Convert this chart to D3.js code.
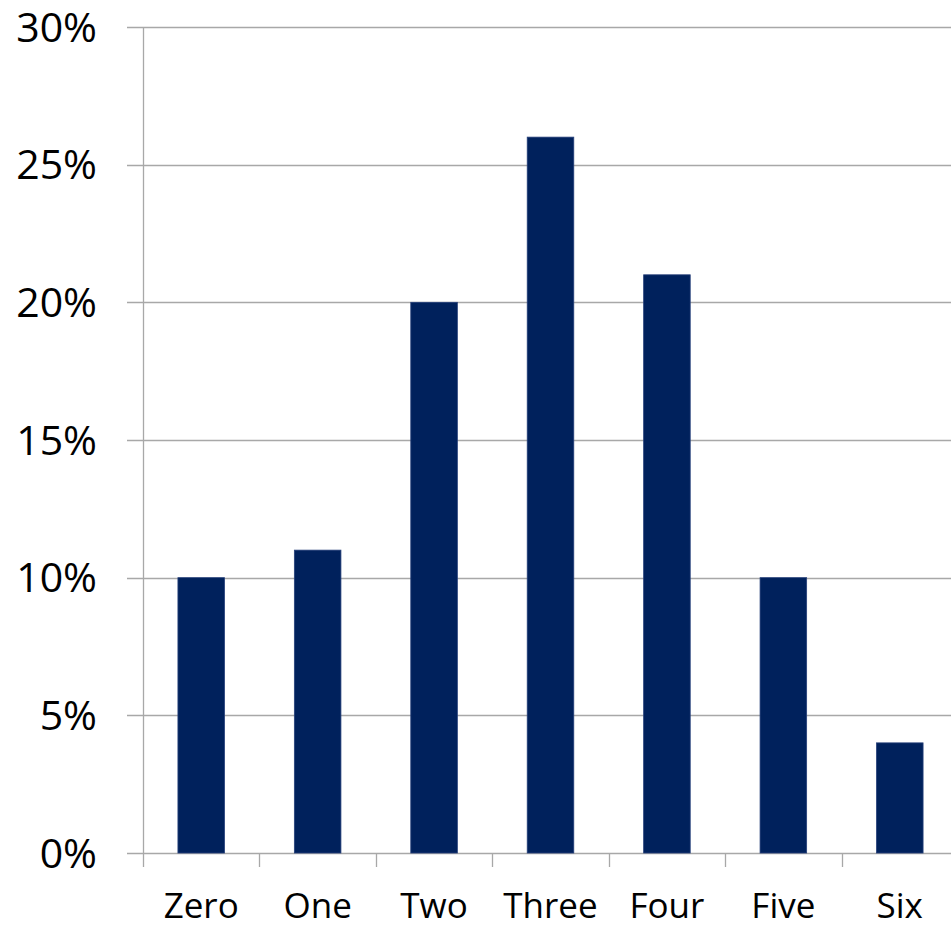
<!DOCTYPE html>
<html><head><meta charset="utf-8">
<script src="https://cdn.jsdelivr.net/npm/d3@7"></script>
<style>html,body{margin:0;padding:0;background:#fff;}svg{display:block;}</style>
</head><body>
<svg id="chart" width="951" height="926"></svg>
<script>
const categories = ["Zero","One","Two","Three","Four","Five","Six"];
const values = [0.10,0.11,0.20,0.26,0.21,0.10,0.04];
const yTicks = [0,0.05,0.10,0.15,0.20,0.25,0.30];

(function(){
const svg = d3.select("#chart");
const mLeft = 143, mRight = 958, mTop = 27, mBottom = 853;
const font = "'Open Sans', sans-serif";
const x = d3.scaleBand().domain(categories).range([mLeft,mRight]).paddingInner(0.6).paddingOuter(0.3);
const xb = d3.scaleBand().domain(categories).range([mLeft,mRight]).padding(0);
const y = d3.scaleLinear().domain([0,0.30]).range([mBottom,mTop]);

// grid
svg.append("g").selectAll("line").data(yTicks).join("line")
  .attr("x1",127).attr("x2",951)
  .attr("y1",d=>Math.round(y(d))+0.5).attr("y2",d=>Math.round(y(d))+0.5)
  .attr("stroke","#a8a8a8").attr("stroke-width",1.3);

// y axis line
svg.append("line").attr("x1",mLeft+0.5).attr("x2",mLeft+0.5).attr("y1",mTop).attr("y2",mBottom+14)
  .attr("stroke","#a8a8a8").attr("stroke-width",1.3);

// x ticks
const xt = categories.map(c=>xb(c)).concat([mRight]);
svg.append("g").selectAll("line").data(xt.slice(1)).join("line")
  .attr("x1",d=>Math.round(d)+0.5).attr("x2",d=>Math.round(d)+0.5)
  .attr("y1",mBottom).attr("y2",mBottom+14)
  .attr("stroke","#a8a8a8").attr("stroke-width",1.3);

// bars
svg.append("g").selectAll("rect").data(values).join("rect")
  .attr("x",(d,i)=>x(categories[i]))
  .attr("width",x.bandwidth())
  .attr("y",d=>y(d))
  .attr("height",d=>y(0)-y(d))
  .attr("fill","#00215c").attr("stroke","#26407a").attr("stroke-width",0.8);

// y labels
svg.append("g").selectAll("text").data(yTicks).join("text")
  .attr("x",97).attr("y",d=>y(d)).attr("dy","0.36em")
  .attr("text-anchor","end").attr("font-family",font).attr("font-size",41)
  .attr("fill","#000").text(d=>d3.format(".0%")(d));

// x labels
svg.append("g").selectAll("text").data(categories).join("text")
  .attr("x",d=>xb(d)+xb.bandwidth()/2).attr("y",918)
  .attr("text-anchor","middle").attr("font-family",font).attr("font-size",35)
  .attr("fill","#000").text(d=>d);
})();
</script>
</body></html>
